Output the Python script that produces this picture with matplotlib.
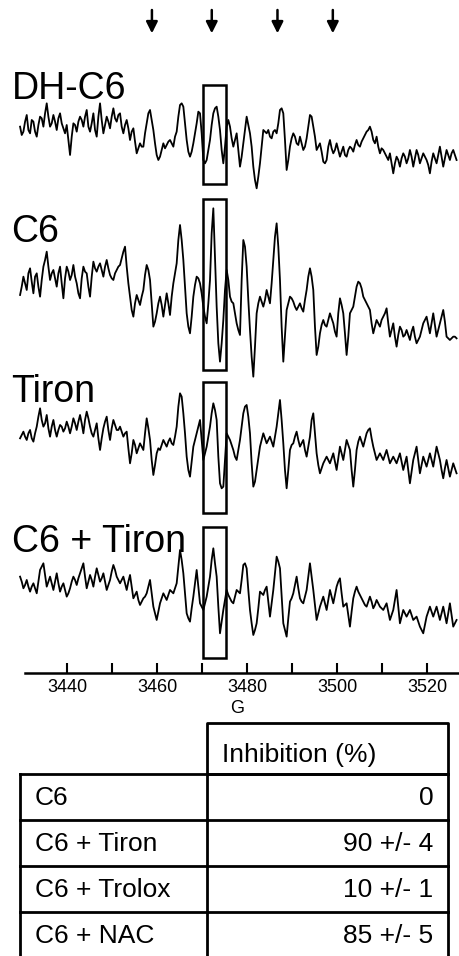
import numpy as np
import matplotlib.pyplot as plt
from matplotlib.patches import Rectangle

plt.rcParams['font.family'] = ['Liberation Sans', 'DejaVu Sans']

# magnetic field sweep (G): coarse points and the points half-way between them
field_a = np.linspace(3429.5, 3526.5, 132)
field_b = (field_a[:-1] + field_a[1:]) / 2

# EPR signal, arbitrary units, read at field_a
dh_c6 = [40, 25, 75, 20, 55, 10, 70, 40, 110, 40,
         75, 30, 80, 35, 45, -45, 50, 25, 70, 40,
         90, 25, 80, 10, 110, 20, 70, 35, 95, 55,
         80, 20, 60, 0, 35, -40, -10, -20, 50, 90,
         30, -45, -50, -10, -15, 0, -20, 25, 105, 100,
         0, -50, -10, 50, 80, -60, -60, 0, 80, 100,
         30, -70, 40, 40, -20, 20, -80, -10, 70, 20,
         -80, -145, -70, 30, 20, 10, 25, 20, 90, 80,
         -90, -20, 20, -10, 10, -30, 5, 75, 40, -30,
         -10, -65, -60, 0, -40, -10, -50, -20, -50, -20,
         -35, 0, -20, 5, 25, 40, 0, 10, -40, -30,
         -50, -40, -100, -50, -80, -40, -70, -30, -80, -30,
         -70, -40, -60, -100, -40, -70, -20, -80, -30, -60,
         -30, -60]
c6 = [35, 90, 50, 115, 40, 100, 30, 120, 165, 80,
      110, 60, 120, 25, 120, 80, 125, 70, 25, 120,
      100, 30, 135, 105, 130, 90, 140, 95, 80, 110,
      125, 165, 120, 30, -30, 35, 5, 50, 125, 80,
      -60, -20, 30, -30, 40, -25, 70, 130, 245, 140,
      -20, -80, 30, 90, 70, 0, -50, 80, 295, 0,
      -165, -40, 110, 30, 10, -50, -85, 200, 120, -70,
      -210, -20, 30, 0, 50, 10, 140, 250, 80, -165,
      -10, 30, 15, -10, 10, -15, 50, 115, 50, -145,
      -80, -40, -60, -20, -50, -90, 25, -20, -145, -20,
      0, 60, 70, 30, 10, -10, -80, -40, -60, -30,
      -5, -90, -50, -120, -60, -90, -70, -100, -60, -110,
      -90, -50, -30, -80, -20, -90, -50, -10, -90, -100,
      -90, -95]
tiron = [25, 45, 20, 50, 15, 60, 115, 60, 95, 30,
         80, 30, 65, 45, 75, 40, 85, 50, 95, 40,
         105, 60, 30, 70, -10, 55, 90, 20, 80, 50,
         60, 30, 45, -50, 20, -20, 10, -10, 85, 20,
         -85, -20, -10, 20, 0, 25, 5, 60, 160, 100,
         -30, -90, 0, 40, 80, -40, 0, 60, 130, 80,
         -110, -120, 40, 20, -10, -40, 20, 100, 125, 40,
         -120, -70, 0, 40, 10, 30, 0, 60, 140, 10,
         -125, -10, 10, 45, 0, 20, -30, 30, 100, -20,
         -80, -50, -30, -50, -20, -70, 0, -40, 20, -10,
         -120, -10, 30, 0, 40, 55, 0, -40, -20, -40,
         -10, -50, -30, -50, -20, -70, -30, -110, -40, 0,
         -80, -30, -60, -20, -60, 0, -40, -95, -40, -90,
         -50, -80]
c6_tiron = [60, 25, 50, 15, 40, 10, 80, 100, 30, 60,
            20, 70, 15, 40, 0, 25, 60, 35, 70, 100,
            25, 65, 30, 85, 45, 70, 20, 50, 95, 60,
            40, 60, 20, 65, -5, 15, -25, -5, 10, 50,
            -30, -70, -20, 10, -10, 20, 10, 40, 140, 70,
            -50, -75, 0, 80, -20, -40, 0, 60, 145, 60,
            -110, -40, 20, -5, -20, 20, 10, 95, 85, -40,
            -115, -80, 15, 5, 30, -60, 20, 120, 85, -80,
            -120, -15, 10, 60, -5, -20, 20, 100, 20, -70,
            -30, 0, -40, 20, -20, 30, 55, -30, -20, -90,
            -5, 30, 5, -15, -30, 0, -35, -10, -30, -40,
            -20, -70, -40, 20, -80, -40, -60, -40, -70, -60,
            -90, -110, -60, -30, -60, -30, -70, -30, -80, -20,
            -90, -70]

# same spectra read at field_b
dh_c6_b = [15, 55, 30, 60, 25, 45, 65, 80, 70, 50,
           55, 65, 50, 20, 0, 10, 45, 55, 60, 70,
           40, 50, 30, 70, 60, 45, 55, 70, 65, 75,
           40, 45, 35, 25, -5, -25, -20, 20, 80, 60,
           -10, -60, -30, -25, -5, -10, 10, 70, 110, 50,
           -35, -35, 20, 85, 20, -70, -30, 45, 95, 70,
           -30, -20, 60, 5, 0, -30, -50, 30, 45, -20,
           -120, -110, -20, 25, 30, 5, 30, 50, 95, 0,
           -60, 5, 10, -15, -10, -20, 40, 70, 10, -20,
           -35, -70, -20, -25, -30, -30, -35, -45, -30, -25,
           -15, -15, -5, 15, 30, 25, -10, -20, -25, -40,
           -60, -70, -70, -60, -55, -50, -55, -50, -55, -45,
           -55, -50, -75, -65, -55, -45, -50, -55, -45, -40,
           -45]
c6_b = [60, 70, 100, 75, 90, 60, 80, 140, 120, 100,
        85, 100, 70, 85, 105, 95, 90, 40, 85, 105,
        60, 90, 115, 120, 110, 120, 115, 85, 100, 120,
        145, 180, 70, -10, 10, 20, 30, 95, 110, 10,
        -45, 10, 5, 5, 10, 30, 100, 200, 200, 60,
        -60, -30, 65, 85, 40, -30, 10, 220, 150, -110,
        -110, 50, 80, 15, -20, -70, 80, 180, 20, -150,
        -120, 10, 15, 20, 30, 70, 210, 180, -60, -90,
        10, 25, 0, 0, -5, 20, 90, 90, -60, -120,
        -55, -55, -40, -35, -75, -20, 5, -80, -90, -10,
        30, 75, 55, 20, 0, -50, -60, -50, -40, -20,
        -50, -70, -90, -85, -70, -85, -85, -75, -90, -100,
        -70, -40, -55, -50, -55, -70, -30, -45, -95, -95,
        -90]
tiron_b = [35, 30, 40, 25, 40, 90, 80, 70, 55, 60,
           50, 50, 60, 55, 60, 60, 70, 75, 70, 80,
           85, 40, 50, 25, 25, 75, 50, 55, 65, 50,
           45, 40, -5, -20, 5, -5, 0, 40, 55, -40,
           -55, -5, 5, 10, 15, 10, 30, 120, 150, 40,
           -70, -45, 20, 60, 20, -20, 30, 100, 110, -30,
           -125, -40, 30, 5, -30, -10, 60, 120, 90, -50,
           -105, -35, 20, 25, 20, 15, 30, 100, 80, -70,
           -70, 5, 30, 20, 10, -10, 0, 80, 40, -55,
           -65, -40, -40, -35, -45, -35, -20, -10, 5, -70,
           -70, 15, 15, 20, 50, 25, -20, -30, -30, -25,
           -30, -40, -40, -35, -45, -50, -70, -75, -20, -40,
           -55, -45, -40, -40, -30, -20, -70, -65, -65, -70,
           -65]
c6_tiron_b = [45, 35, 30, 30, 25, 45, 90, 65, 45, 40,
              45, 40, 30, 20, 10, 45, 50, 55, 85, 60,
              45, 50, 60, 65, 55, 45, 35, 75, 80, 50,
              50, 40, 45, 30, 5, -10, -15, 0, 30, 10,
              -50, -45, -5, 0, 5, 15, 25, 90, 110, 10,
              -65, -35, 40, 30, -30, -20, 30, 110, 100, -30,
              -75, -10, 5, -15, 0, 15, 50, 100, 20, -80,
              -100, -35, 10, 20, -15, -20, 70, 105, 0, -100,
              -65, -5, 35, 25, -15, 0, 60, 60, -25, -50,
              -15, -20, -10, 0, 5, 45, 10, -25, -55, -45,
              15, 15, -5, -25, -15, -15, -25, -20, -35, -30,
              -45, -55, -10, -30, -60, -50, -50, -55, -65, -75,
              -100, -85, -45, -45, -45, -50, -50, -55, -50, -55,
              -80]

trace_labels = ['DH-C6', 'C6', 'Tiron', 'C6 + Tiron']
traces_a = [dh_c6, c6, tiron, c6_tiron]
traces_b = [dh_c6_b, c6_b, tiron_b, c6_tiron_b]

arrow_fields = [3458.8, 3472.1, 3486.7, 3499.0]
box_field = (3470.1, 3475.3)

major_ticks = [3440, 3460, 3480, 3500, 3520]
minor_ticks = [3450, 3470, 3490, 3510]

table_header = 'Inhibition (%)'
table_rows = ['C6', 'C6 + Tiron', 'C6 + Trolox', 'C6 + NAC']
table_values = ['0', '90 +/- 4', '10 +/- 1', '85 +/- 5']

W, H = 459, 956
fig = plt.figure(figsize=(W / 100, H / 100), dpi=100)

# spectra panel (y in a.u., 3 units per pixel)
ax = fig.add_axes([15 / W, (H - 673.3) / H, 444 / W, 673.3 / H])
ax.set_xlim(3425.04 + 15 / 4.5, 3527.04)
ax.set_ylim(0, 2020)

offsets = [1600, 1100, 680, 230]
label_base = [99.3, 241.7, 401.7, 551.7]
boxes = [(1468, 1765), (910, 1422), (480, 875), (45, 440)]

for va_, vb_, off, lab, yb, (b0, b1) in zip(traces_a, traces_b, offsets, trace_labels,
                                            label_base, boxes):
    x = np.empty(len(field_a) + len(field_b))
    y = np.empty_like(x)
    x[0::2], x[1::2] = field_a, field_b
    y[0::2], y[1::2] = va_, vb_
    ax.plot(x, off + y, color='black', lw=1.3, clip_on=False, solid_joinstyle='round')
    ax.add_patch(Rectangle((box_field[0], b0), box_field[1] - box_field[0], b1 - b0,
                           fill=False, lw=1.8, ec='black'))
    fig.text(11.5 / W, 1 - yb / H, lab, fontsize=27, ha='left', va='baseline')

for xf in arrow_fields:
    ax.annotate('', xy=(xf, 1920), xytext=(xf, 1990),
                arrowprops=dict(arrowstyle='-|>', lw=1.8, color='black',
                                mutation_scale=17, shrinkA=0, shrinkB=0))

for s in ['top', 'right', 'left']:
    ax.spines[s].set_visible(False)
ax.spines['bottom'].set_linewidth(1.8)
ax.spines['bottom'].set_bounds(3430.6, 3527.04)
ax.set_yticks([])
ax.set_xticks(major_ticks)
ax.set_xticks(minor_ticks, minor=True)
ax.tick_params(axis='x', which='both', direction='in', length=7, width=1.5, pad=4,
               labelsize=13)
ax.set_xlabel('G', fontsize=13, labelpad=3)

# inhibition table (pixel coordinates)
tax = fig.add_axes([0, 0, 1, 1])
tax.set_xlim(0, W)
tax.set_ylim(H, 0)
tax.axis('off')

x0, x1, x2 = 20, 206.7, 448.3
top_h, row_top, row_h = 723.3, 774, 46
lw = 2
tax.plot([x1, x2, x2, x1, x1], [row_top, row_top, top_h, top_h, row_top], color='black', lw=lw)
tax.text(221.7, 755, table_header, fontsize=19, va='center', ha='left')
for i, (name, val) in enumerate(zip(table_rows, table_values)):
    y0 = row_top + i * row_h
    y1 = y0 + row_h
    tax.plot([x0, x2], [y1, y1], color='black', lw=lw, clip_on=False)
    tax.plot([x0, x0], [y0, y1], color='black', lw=lw)
    tax.plot([x1, x1], [y0, y1], color='black', lw=lw)
    tax.plot([x2, x2], [y0, y1], color='black', lw=lw)
    tax.text(35, y0 + row_h / 2 + 1, name, fontsize=19, va='center', ha='left')
    tax.text(433.3, y0 + row_h / 2 + 1, val, fontsize=19, va='center', ha='right')
tax.plot([x0, x2], [row_top, row_top], color='black', lw=lw)

fig.savefig('out.png', dpi=100)
